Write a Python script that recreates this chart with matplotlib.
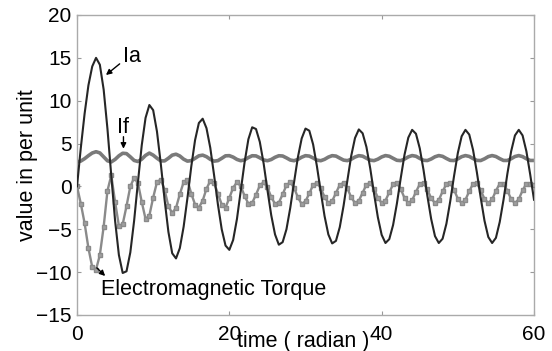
import numpy as np
import matplotlib
matplotlib.use("Agg")
import matplotlib.pyplot as plt

plt.rcParams['font.family'] = ['Liberation Sans', 'DejaVu Sans']

# sample times (radian), step 0.5 from 0 to 60
time = np.arange(0, 60.5, 0.5)

ia = [0, 4.5, 8.5, 11.8, 14.0, 15.0, 14.2, 11.3, 6.7, 1.25,
      -4.0, -8.0, -10.1, -9.9, -7.7, -4.0, 0.5, 4.8, 8.0, 9.5,
      8.9, 6.4, 2.65, -1.55, -5.3, -7.8, -8.4, -7.2, -4.7, -1.35,
      2.3, 5.4, 7.4, 7.9, 6.8, 4.5, 1.3, -2.1, -5.0, -6.9,
      -7.4, -6.25, -3.8, -0.5, 2.8, 5.5, 6.9, 6.7, 5.2, 2.7,
      -0.4, -3.35, -5.6, -6.8, -6.5, -5.0, -2.5, 0.5, 3.4, 5.6,
      6.75, 6.5, 4.9, 2.35, -0.6, -3.45, -5.6, -6.65, -6.35, -4.75,
      -2.25, 0.7, 3.55, 5.65, 6.65, 6.2, 4.6, 2.1, -0.85, -3.6,
      -5.65, -6.6, -6.15, -4.5, -2.0, 0.95, 3.7, 5.7, 6.6, 6.15,
      4.45, 1.9, -1.1, -3.8, -5.8, -6.6, -6.1, -4.35, -1.75, 1.2,
      3.9, 5.85, 6.6, 6.05, 4.25, 1.65, -1.3, -4.0, -5.9, -6.6,
      -6.0, -4.15, -1.55, 1.45, 4.1, 5.95, 6.6, 5.95, 4.1, 1.4,
      -1.55]

i_f = [2.85, 2.96, 3.24, 3.59, 3.90, 4.05, 3.91, 3.45, 2.99, 2.86,
       3.15, 3.57, 3.87, 3.83, 3.45, 3.03, 2.91, 3.18, 3.62, 3.89,
       3.65, 3.29, 2.98, 2.98, 3.29, 3.65, 3.76, 3.55, 3.18, 2.95,
       3.01, 3.28, 3.57, 3.65, 3.47, 3.16, 2.95, 3.01, 3.28, 3.57,
       3.59, 3.42, 3.15, 3.00, 3.10, 3.37, 3.58, 3.56, 3.34, 3.09,
       3.00, 3.14, 3.40, 3.58, 3.55, 3.33, 3.08, 3.00, 3.15, 3.41,
       3.59, 3.54, 3.32, 3.07, 3.00, 3.16, 3.42, 3.59, 3.54, 3.30,
       3.07, 3.01, 3.17, 3.43, 3.59, 3.53, 3.29, 3.06, 3.01, 3.18,
       3.44, 3.60, 3.52, 3.28, 3.05, 3.01, 3.19, 3.45, 3.60, 3.52,
       3.27, 3.05, 3.02, 3.20, 3.46, 3.60, 3.51, 3.26, 3.04, 3.02,
       3.21, 3.47, 3.60, 3.50, 3.25, 3.04, 3.02, 3.22, 3.48, 3.60,
       3.49, 3.24, 3.03, 3.03, 3.23, 3.49, 3.60, 3.48, 3.23, 3.03,
       3.03]

torque = [0, -2.0, -4.3, -7.2, -9.4, -9.7, -8.0, -4.7, -0.5, 1.3,
          -1.8, -4.6, -4.4, -2.3, 0.0, 1.0, 0.4, -1.8, -3.8, -3.4,
          -1.3, 0.5, 0.8, -0.4, -2.3, -3.1, -2.5, -0.9, 0.5, 0.7,
          -0.83, -2.11, -2.47, -1.66, -0.27, 0.64, 0.39, -0.83, -2.11, -2.47,
          -1.34, -0.15, 0.49, 0.05, -1.11, -2.01, -1.92, -0.96, 0.11, 0.49,
          -0.11, -1.24, -2.03, -1.89, -0.92, 0.14, 0.49, -0.15, -1.28, -2.05,
          -1.73, -0.81, 0.16, 0.43, -0.19, -1.23, -1.91, -1.71, -0.76, 0.18,
          0.42, -0.22, -1.27, -1.93, -1.68, -0.73, 0.21, 0.41, -0.27, -1.32,
          -1.93, -1.65, -0.68, 0.23, 0.40, -0.30, -1.35, -1.94, -1.62, -0.64,
          0.26, 0.39, -0.35, -1.39, -1.94, -1.59, -0.59, 0.28, 0.37, -0.39,
          -1.43, -1.95, -1.56, -0.55, 0.30, 0.36, -0.43, -1.46, -1.95, -1.52,
          -0.51, 0.32, 0.34, -0.48, -1.49, -1.95, -1.49, -0.47, 0.34, 0.32,
          0.2]

xticks = [0, 20, 40, 60]
yticks = [-15, -10, -5, 0, 5, 10, 15, 20]

fig = plt.figure(figsize=(5.52, 3.51), dpi=100)
ax = fig.add_axes([77/552, 36/351, 457/552, 300/351])

ax.plot(time, i_f, color='#7a7a7a', lw=2.6, zorder=2)
ax.plot(time, torque, color='#8a8a8a', lw=1.7, marker='s', ms=2.3,
        mec='#8a8a8a', mfc='#a0a0a0', zorder=3)
ax.plot(time, ia, color='#262626', lw=1.5, zorder=4)

ax.set_xlim(0, 60)
ax.set_ylim(-15, 20)
ax.set_xticks(xticks)
ax.set_yticks(yticks)
ax.tick_params(direction='in', length=3, width=0.8, color='#999999',
               labelsize=15, top=True, right=True)
ax.tick_params(axis='x', pad=7)
ax.tick_params(axis='y', pad=3.8)
for s in ax.spines.values():
    s.set_color('#aaaaaa')
    s.set_linewidth(1.0)

ax.set_xlabel('time ( radian )', fontsize=15.5)
ax.xaxis.set_label_coords(0.495, -0.087)
ax.xaxis.label.set_va('center')
ax.set_ylabel('value in per unit', fontsize=15.5)
ax.yaxis.set_label_coords(-0.109, 0.5)
ax.yaxis.label.set_va('center')

arrow = dict(arrowstyle='-|>', color='black', lw=1.0, mutation_scale=8,
             shrinkA=0, shrinkB=0)
ax.text(6.0, 15.1, 'Ia', fontsize=15.5, ha='left', va='center')
ax.annotate('', xy=(3.8, 13.0), xytext=(5.6, 14.3), arrowprops=arrow)
ax.text(6.1, 6.9, 'If', fontsize=15.5, ha='center', va='center')
ax.annotate('', xy=(6.1, 4.4), xytext=(6.1, 5.8), arrowprops=arrow)
ax.annotate('', xy=(3.7, -10.45), xytext=(2.6, -9.5), arrowprops=arrow)
ax.text(3.1, -12.0, 'Electromagnetic Torque', fontsize=15.5,
        ha='left', va='center')

fig.savefig('out.png', dpi=100)
